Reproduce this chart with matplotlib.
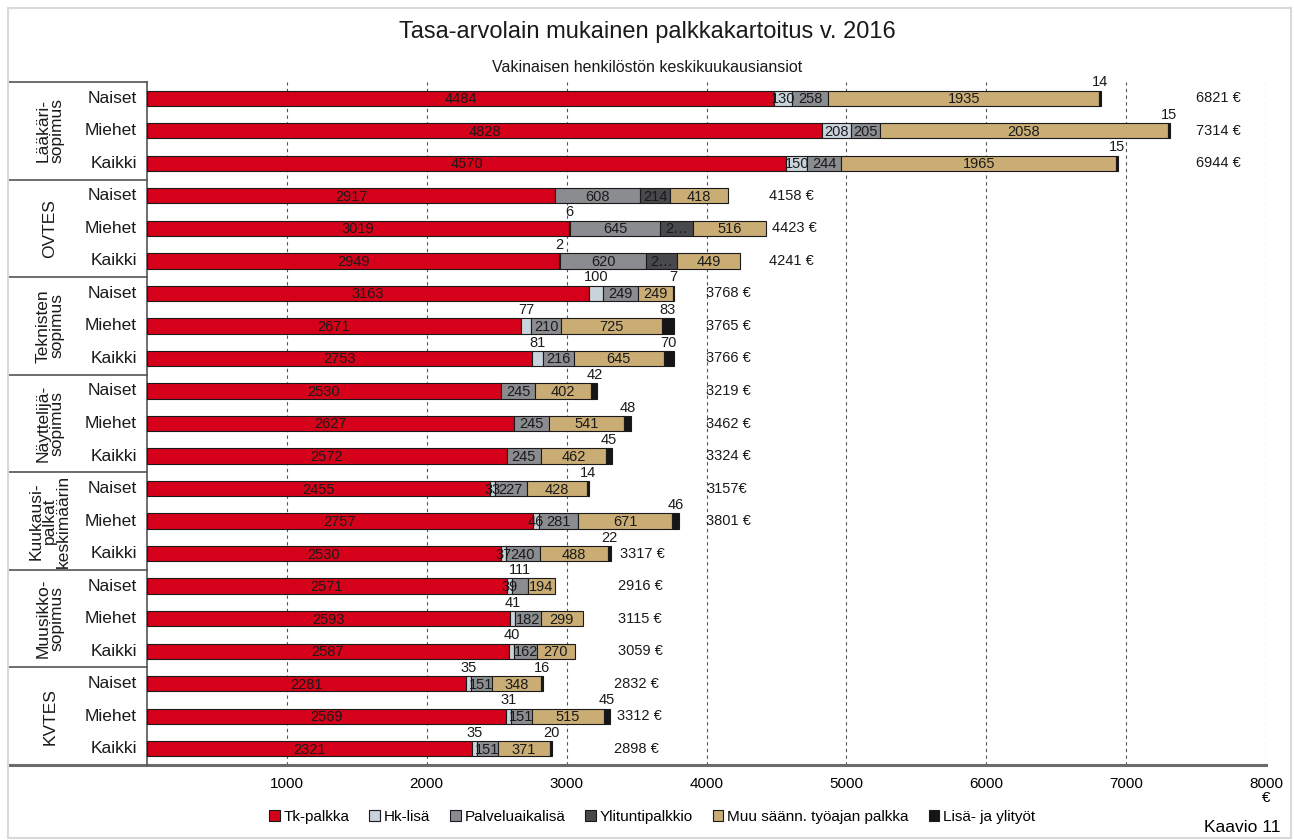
import numpy as np
import matplotlib
matplotlib.use('Agg')
import matplotlib.pyplot as plt
from matplotlib.patches import Rectangle
import matplotlib.transforms as mtransforms

plt.rcParams['font.family'] = ['Liberation Sans Narrow', 'Liberation Sans', 'DejaVu Sans']

# --- DATA ---
groups = ['Lääkäri-\nsopimus', 'OVTES', 'Teknisten\nsopimus', 'Näyttelijä-\nsopimus',
          'Kuukausi-\npalkat\nkeskimäärin', 'Muusikko-\nsopimus', 'KVTES']
subs = ['Naiset', 'Miehet', 'Kaikki']
components = ['Tk-palkka', 'Hk-lisä', 'Palveluaikalisä', 'Ylituntipalkkio',
              'Muu säänn. työajan palkka', 'Lisä- ja ylityöt']

tk_palkka = [4484, 4828, 4570, 2917, 3019, 2949, 3163, 2671, 2753, 2530, 2627, 2572,
             2455, 2757, 2530, 2571, 2593, 2587, 2281, 2569, 2321]
hk_lisa = [130, 208, 150, 0, 6, 2, 100, 77, 81, 0, 0, 0,
           33, 46, 37, 39, 41, 40, 35, 31, 35]
palveluaikalisa = [258, 205, 244, 608, 645, 620, 249, 210, 216, 245, 245, 245,
                   227, 281, 240, 111, 182, 162, 151, 151, 151]
ylituntipalkkio = [0, 0, 0, 214, 237, 221, 0, 0, 0, 0, 0, 0,
                   0, 0, 0, 0, 0, 0, 0, 0, 0]
muu_palkka = [1935, 2058, 1965, 418, 516, 449, 249, 725, 645, 402, 541, 462,
              428, 671, 488, 194, 299, 270, 348, 515, 371]
lisa_ylityot = [14, 15, 15, 0, 0, 0, 7, 83, 70, 42, 48, 45,
                14, 46, 22, 0, 0, 0, 16, 45, 20]
totals = [6821, 7314, 6944, 4158, 4423, 4241, 3768, 3765, 3766, 3219, 3462, 3324,
          3157, 3801, 3317, 2916, 3115, 3059, 2832, 3312, 2898]

# --- ULKOASU ---
colors = ['#D50019', '#C9D3DB', '#8B8C90', '#48494C', '#C9AD74', '#161616']
edge = '#1a1a1a'
bar_h = 0.47
# kokonaissumman tekstin paikka (x, datayksiköissä)
total_x = [7500, 7500, 7500, 4450, 4470, 4450, 4000, 4000, 4000, 4000, 4000, 4000,
           4000, 4000, 3380, 3365, 3365, 3365, 3340, 3360, 3340]
above_hk = {4, 5, 6, 7, 8, 16, 17, 18, 19, 20}
above_palvelu = {15}
truncated = {(4, 3): '2…', (5, 3): '2…'}

values = np.array([tk_palkka, hk_lisa, palveluaikalisa, ylituntipalkkio, muu_palkka, lisa_ylityot])
n = values.shape[1]
y = np.arange(n)

fig = plt.figure(figsize=(12.94, 8.4), dpi=100)
ax = fig.add_axes([147 / 1294, 1 - 765 / 840, 1119 / 1294, 683 / 840])

left = np.zeros(n)
for k in range(len(components)):
    v = values[k]
    mask = v > 0
    ax.barh(y[mask], v[mask], left=left[mask], height=bar_h, color=colors[k],
            edgecolor=edge, linewidth=0.8, zorder=3)
    for i in np.where(mask)[0]:
        cx = left[i] + v[i] / 2
        txt = truncated.get((i, k), str(v[i]))
        if k == 5 or (k == 1 and i in above_hk) or (k == 2 and i in above_palvelu):
            ax.text(cx, i - bar_h / 2 - 0.04, txt, ha='center', va='bottom',
                    fontsize=10.5, color='#1a1a1a', zorder=4)
        else:
            ax.text(cx, i + 0.03, txt, ha='center', va='center',
                    fontsize=10.5, color='#1a1a1a', zorder=4)
    left += v

for i in range(n):
    sep = '' if i == 12 else ' '
    ax.text(total_x[i], i, f'{totals[i]}{sep}€', ha='left', va='center',
            fontsize=10.5, color='#1a1a1a')

ax.set_xlim(0, 8000)
ax.set_ylim(n - 0.5, -0.5)
ax.set_xticks(range(1000, 8001, 1000))
ax.set_xticklabels([str(t) for t in range(1000, 8001, 1000)], fontsize=11)
ax.set_yticks([])
ax.tick_params(axis='x', length=0, pad=9)
ax.grid(axis='x', linestyle=(0, (3, 3)), color='#555555', linewidth=0.8, zorder=0)
for s in ['top', 'right', 'bottom']:
    ax.spines[s].set_visible(False)
ax.spines['left'].set_color('#555555')
ax.spines['left'].set_linewidth(1.2)

trans = mtransforms.blended_transform_factory(ax.transAxes, ax.transData)
x_box = -139 / 1119

# vasemman reunan ryhmälaatikot
bounds = [-0.5 + 3 * g for g in range(len(groups) + 1)]
for b in bounds[:-1]:
    ax.plot([x_box, 0], [b, b], transform=trans, color='#555555', lw=1.2, clip_on=False)
ax.plot([x_box, x_box], [-0.5, n - 0.5], transform=trans, color='#555555', lw=1.2, clip_on=False)
ax.plot([x_box, 1.0], [n - 0.5, n - 0.5], transform=trans, color='#6b6b6b', lw=2.2, clip_on=False)

for g, name in enumerate(groups):
    ax.text(-0.087, 3 * g + 1, name, transform=trans, rotation=90, ha='center', va='center',
            fontsize=12.5, linespacing=0.9, color='#1a1a1a')
    for j, s in enumerate(subs):
        ax.text(-0.009, 3 * g + j, s, transform=trans, ha='right', va='center',
                fontsize=12.5, color='#1a1a1a')

ax.text(8000, -0.038, '€', transform=mtransforms.blended_transform_factory(ax.transData, ax.transAxes),
        ha='center', va='top', fontsize=11)

fig.text(0.5, 1 - 32 / 840, 'Tasa-arvolain mukainen palkkakartoitus v. 2016',
         ha='center', va='center', fontsize=17, color='#1a1a1a')
fig.text(0.5, 1 - 68 / 840, 'Vakinaisen henkilöstön keskikuukausiansiot',
         ha='center', va='center', fontsize=11.5, color='#1a1a1a')
fig.text(1280 / 1294, 1 - 828 / 840, 'Kaavio 11', ha='right', va='center', fontsize=12.5)

handles = [Rectangle((0, 0), 1, 1, facecolor=c, edgecolor=edge, linewidth=0.8) for c in colors]
fig.legend(handles, components, loc='center', bbox_to_anchor=(652 / 1294, 1 - 817 / 840),
           ncol=6, frameon=False, fontsize=11, handlelength=0.7, handleheight=0.7,
           handletextpad=0.25, columnspacing=1.3)

fig.patches.append(Rectangle((8 / 1294, 2 / 840), 1283 / 1294, 830 / 840, transform=fig.transFigure,
                             fill=False, edgecolor='#d9d9d9', linewidth=1.5))

fig.savefig('out.png', dpi=100)
